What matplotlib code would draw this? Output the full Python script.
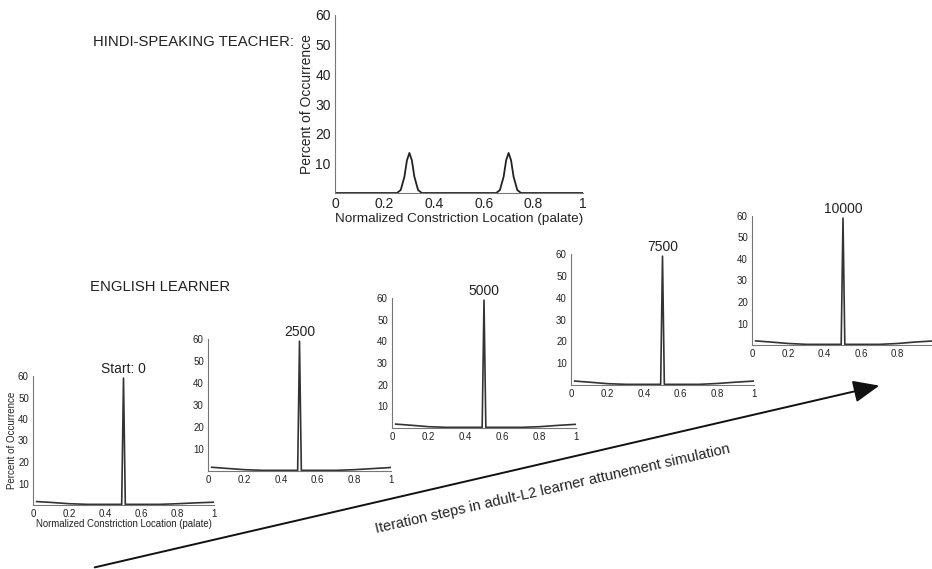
import matplotlib.pyplot as plt
from matplotlib.patches import FancyArrowPatch

plt.rcParams['font.family'] = ['Liberation Sans', 'DejaVu Sans']

# Teacher distribution (two peaks)
teacher_x = [0.0, 0.25, 0.265, 0.28, 0.29, 0.30, 0.31, 0.32, 0.335, 0.35,
             0.65, 0.665, 0.68, 0.69, 0.70, 0.71, 0.72, 0.735, 0.75, 1.0]
teacher_y = [0.0, 0.0, 1.0, 5.5, 11.0, 13.5, 11.0, 5.5, 1.0, 0.0,
             0.0, 1.0, 5.5, 11.0, 13.5, 11.0, 5.5, 1.0, 0.0, 0.0]

# Learner distributions at each iteration step
learner_x = [0.02, 0.1, 0.2, 0.3, 0.4, 0.49, 0.50, 0.51,
             0.6, 0.7, 0.8, 0.9, 1.0]
learner_y = {
    "Start: 0": [1.6, 1.2, 0.6, 0.3, 0.3, 0.3, 59.0, 0.3, 0.3, 0.3, 0.6, 1.0, 1.3],
    "2500":     [1.7, 1.2, 0.6, 0.3, 0.3, 0.3, 59.0, 0.3, 0.3, 0.3, 0.6, 1.1, 1.6],
    "5000":     [1.8, 1.3, 0.6, 0.3, 0.3, 0.3, 59.0, 0.3, 0.3, 0.3, 0.6, 1.2, 1.7],
    "7500":     [1.8, 1.3, 0.6, 0.3, 0.3, 0.3, 59.0, 0.3, 0.3, 0.3, 0.7, 1.3, 1.8],
    "10000":    [1.9, 1.4, 0.7, 0.3, 0.3, 0.3, 59.0, 0.3, 0.3, 0.3, 0.7, 1.4, 1.9],
}

x_ticks = [0, 0.2, 0.4, 0.6, 0.8, 1]
x_ticklabels = ["0", "0.2", "0.4", "0.6", "0.8", "1"]
y_ticks = [10, 20, 30, 40, 50, 60]

W, H = 932, 569
fig = plt.figure(figsize=(W / 100, H / 100), dpi=100)


def px_axes(left, right, top, bottom):
    return fig.add_axes([left / W, 1 - bottom / H, (right - left) / W, (bottom - top) / H])


def style(ax, fs, labels=x_ticklabels):
    ax.set_xlim(0, 1)
    ax.set_ylim(0, 60)
    ax.set_xticks(x_ticks)
    ax.set_xticklabels(labels)
    ax.set_yticks(y_ticks)
    for s in ["top", "right"]:
        ax.spines[s].set_visible(False)
    for s in ["left", "bottom"]:
        ax.spines[s].set_color("#777777")
        ax.spines[s].set_linewidth(0.8)
    ax.tick_params(direction="in", length=0, labelsize=fs, colors="#222222", pad=3)
    ax.patch.set_alpha(0)


# top panel
ax = px_axes(335, 583, 15, 193)
ax.plot(teacher_x, teacher_y, color="#222222", lw=1.3)
style(ax, 10)
ax.set_xlabel("Normalized Constriction Location (palate)", fontsize=9.7, color="#222222", labelpad=1)
ax.set_ylabel("Percent of Occurrence", fontsize=10, color="#222222", labelpad=1)
fig.text(93 / W, 1 - 42 / H, "HINDI-SPEAKING TEACHER:", fontsize=10.7, va="center", color="#222222")

# learner panels
boxes = [(33, 214, 376, 505), (208, 391, 339, 471), (392, 576, 298, 428),
         (571, 754, 254, 385), (752, 934, 216, 345)]
for i, (label, ys) in enumerate(learner_y.items()):
    ax = px_axes(*boxes[i])
    ax.plot(learner_x, ys, color="#333333", lw=1.2)
    # last panel runs past the right edge, its "1" is cut off
    style(ax, 7, x_ticklabels[:-1] + [""] if i == 4 else x_ticklabels)
    ax.set_title(label, fontsize=10, color="#222222", pad=1)
    if i == 0:
        ax.set_xlabel("Normalized Constriction Location (palate)", fontsize=6.9, color="#222222", labelpad=0)
        ax.set_ylabel("Percent of Occurrence", fontsize=7, color="#222222", labelpad=1)

fig.text(90 / W, 1 - 287 / H, "ENGLISH LEARNER", fontsize=10.7, va="center", color="#222222")

# arrow along the iteration steps
fig.patches.append(FancyArrowPatch(
    (92 / W, 1 - 568 / H), (882 / W, 1 - 385 / H), transform=fig.transFigure,
    arrowstyle="-|>,head_length=0.4,head_width=0.17", mutation_scale=40,
    color="#111111", lw=1.4))
fig.text(553 / W, 1 - 489 / H, "Iteration steps in adult-L2 learner attunement simulation",
         fontsize=10.5, rotation=12.8, rotation_mode="anchor", ha="center", va="center",
         color="#222222")

fig.savefig("out.png", dpi=100)
